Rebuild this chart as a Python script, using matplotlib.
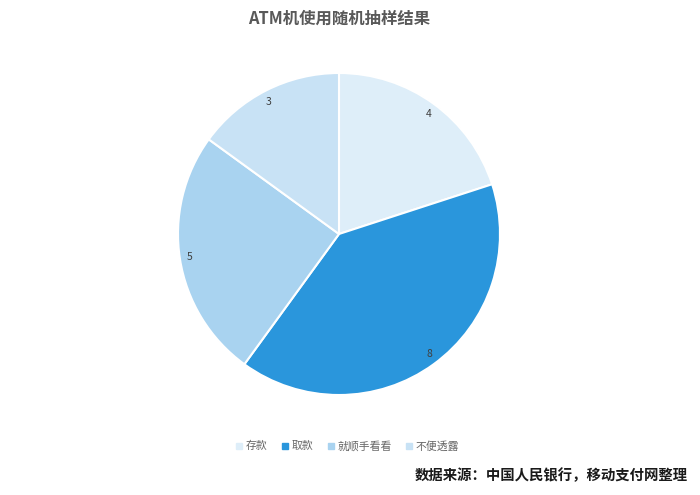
import matplotlib.pyplot as plt
from matplotlib.lines import Line2D

plt.rcParams['font.family'] = ['Noto Sans CJK SC', 'DejaVu Sans']

categories = ['存款', '取款', '就顺手看看', '不便透露']
values = [4, 8, 5, 3]
colors = ['#deeef9', '#2a96dc', '#a9d3f0', '#c8e2f5']

fig = plt.figure(figsize=(7, 4.95), dpi=100)
ax = fig.add_axes([178 / 700, 100 / 495, 322 / 700, 322 / 495])

wedges, texts = ax.pie(values, colors=colors, startangle=90, counterclock=False,
                       labels=[str(v) for v in values], labeldistance=0.92,
                       wedgeprops=dict(edgecolor='white', linewidth=1.5),
                       textprops=dict(fontsize=7.5, color='#404040'))
ax.set_xlim(-1, 1)
ax.set_ylim(-1, 1)
ax.set_aspect('equal')

fig.text(339 / 700, 1 - 19 / 495, 'ATM机使用随机抽样结果', ha='center', va='center',
         fontsize=11.8, fontweight='bold', color='#595959')

handles = [Line2D([0], [0], marker='s', linestyle='', markersize=4,
                  markerfacecolor=c, markeredgecolor=c) for c in colors]
fig.legend(handles, categories, loc='center', bbox_to_anchor=(347 / 700, 1 - 446 / 495),
           ncol=4, frameon=False, fontsize=7.8, handletextpad=0.2, columnspacing=1.2,
           labelcolor='#666666', handlelength=0.8)

fig.text(688 / 700, 1 - 476 / 495, '数据来源：中国人民银行，移动支付网整理', ha='right', va='center',
         fontsize=10.35, fontweight='bold', color='#1a1a1a')

fig.savefig('out.png', dpi=100, facecolor='white')
